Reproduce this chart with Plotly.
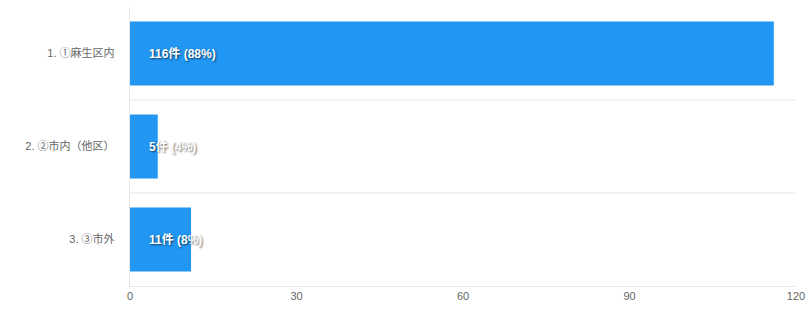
import plotly.graph_objects as go

categories = ["1. ①麻生区内", "2. ②市内（他区）", "3. ③市外"]
counts = [116, 5, 11]
percents = [88, 4, 8]
x_ticks = [0, 30, 60, 90, 120]

labels = [f"{c}件 ({p}%)" for c, p in zip(counts, percents)]
FONT = "Liberation Sans, Noto Sans CJK JP, sans-serif"

fig = go.Figure()
fig.add_trace(go.Bar(
    y=categories, x=counts, orientation="h",
    marker=dict(color="#2196f3", line=dict(width=0)),
    width=0.69, hoverinfo="skip",
))

for cat, lab in zip(categories, labels):
    fig.add_annotation(
        x=0, y=cat, xref="x", yref="y", text=f"<b>{lab}</b>",
        showarrow=False, xanchor="left", xshift=17,
        font=dict(color="white", size=12, family=FONT,
                  shadow="1px 1px 2px rgba(0,0,0,0.6)"),
    )

for b in [0.5, 1.5]:
    fig.add_shape(type="line", xref="paper", x0=0, x1=1, yref="y", y0=b, y1=b,
                  line=dict(color="#e6e6e6", width=1), layer="below")

fig.update_layout(
    width=812, height=309,
    margin=dict(l=130, r=12, t=7, b=22),
    paper_bgcolor="white", plot_bgcolor="white",
    showlegend=False,
    font=dict(family=FONT, color="#666666", size=11),
    xaxis=dict(range=[0, 120], tickvals=x_ticks, showgrid=False, zeroline=False,
               showline=True, linecolor="#e6e6e6", ticks="", tickfont=dict(size=11, color="#666666")),
    yaxis=dict(showgrid=False, zeroline=False,
               showline=True, linecolor="#e6e6e6", ticks="", ticksuffix="    ",
               tickfont=dict(size=11, color="#666666"), range=[2.5, -0.5]),
)

fig.write_html(
    "out.html",
    config={"displayModeBar": False},
    post_script="document.body.style.margin='0';document.body.style.overflow='hidden';",
)
